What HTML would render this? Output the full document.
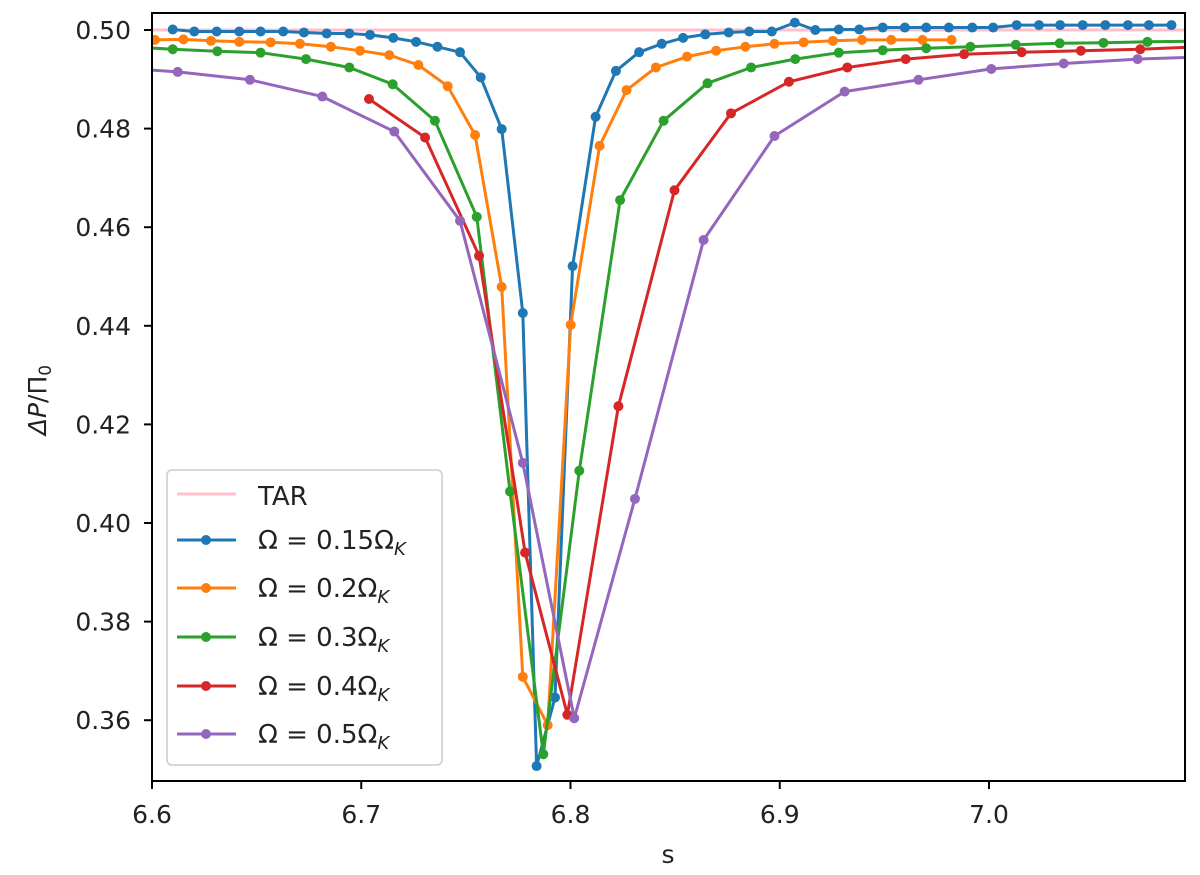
<!DOCTYPE html>
<html><head><meta charset="utf-8"><style>
body{margin:0;background:#fff;}
svg{display:block;font-family:"DejaVu Sans","Liberation Sans",sans-serif;}
</style></head><body>
<svg id="chart" width="1200" height="875" viewBox="0 0 1200 875">
<defs><clipPath id="clip"><rect x="152" y="13" width="1033" height="768"/></clipPath></defs>
<rect x="0" y="0" width="1200" height="875" fill="#fff"/>
<g id="plot" clip-path="url(#clip)"></g>
<g id="axes"></g>
</svg>
<script>
const xTicks = [6.6, 6.7, 6.8, 6.9, 7.0];
const xTickLabels = ["6.6", "6.7", "6.8", "6.9", "7.0"];
const yTicks = [0.36, 0.38, 0.40, 0.42, 0.44, 0.46, 0.48, 0.50];
const yTickLabels = ["0.36", "0.38", "0.40", "0.42", "0.44", "0.46", "0.48", "0.50"];
const tarValue = 0.50;

const s015 = [6.6099,6.6202,6.6309,6.6417,6.6519,6.6627,6.6726,6.6835,6.6943,6.7042,6.7153,6.7262,6.7364,6.7472,6.7571,6.7671,6.7772,6.7838,6.7926,6.8010,6.812,6.8217,6.8328,6.8436,6.8538,6.8644,6.8756,6.8854,6.8962,6.9072,6.9170,6.9282,6.9380,6.9492,6.9598,6.9700,6.9808,6.9920,7.0020,7.0132,7.0239,7.0340,7.0448,7.0556,7.0664,7.0764,7.0872];
const v015 = [0.5001,0.4997,0.4997,0.4997,0.4997,0.4997,0.4995,0.4993,0.4993,0.4990,0.4984,0.4976,0.4966,0.4955,0.4904,0.4799,0.4426,0.3507,0.3646,0.4521,0.4824,0.4917,0.4955,0.4972,0.4984,0.4991,0.4995,0.4997,0.4997,0.5015,0.5000,0.5001,0.5001,0.5005,0.5005,0.5005,0.5005,0.5005,0.5005,0.5010,0.5010,0.5010,0.5010,0.5010,0.5010,0.5010,0.5010];
const s02 = [6.6014,6.6150,6.6282,6.6417,6.6567,6.6707,6.6855,6.6994,6.7134,6.7273,6.7413,6.7544,6.7671,6.7772,6.7891,6.8001,6.8139,6.8268,6.8408,6.8557,6.8696,6.8836,6.8975,6.9114,6.9254,6.9393,6.9533,6.9682,6.9821];
const v02 = [0.4980,0.4981,0.4978,0.4976,0.4975,0.4972,0.4966,0.4958,0.4949,0.4929,0.4886,0.4787,0.4479,0.3688,0.3590,0.4402,0.4765,0.4878,0.4924,0.4946,0.4958,0.4966,0.4972,0.4975,0.4978,0.4980,0.4980,0.4980,0.4980];
const s03 = [6.589,6.6099,6.6312,6.6519,6.6736,6.6943,6.7150,6.7352,6.7552,6.7711,6.7870,6.8042,6.8237,6.8445,6.8655,6.8863,6.9074,6.9282,6.9492,6.9700,6.9911,7.0128,7.0338,7.0547,7.0757,7.097];
const v03 = [0.4966,0.4961,0.4957,0.4954,0.4941,0.4924,0.4890,0.4816,0.4621,0.4064,0.3531,0.4106,0.4655,0.4816,0.4892,0.4924,0.4941,0.4954,0.4959,0.4963,0.4966,0.4970,0.4973,0.4974,0.4976,0.4977];
const s04 = [6.7037,6.7305,6.7563,6.7783,6.7985,6.8229,6.8497,6.8767,6.9044,6.9323,6.9602,6.9881,7.0156,7.0439,7.0723,7.100];
const v04 = [0.4860,0.4782,0.4542,0.3940,0.3611,0.4237,0.4675,0.4831,0.4895,0.4924,0.4941,0.4951,0.4955,0.4958,0.4961,0.4966];
const s05 = [6.585,6.6123,6.6468,6.6814,6.7158,6.7472,6.7772,6.8018,6.8308,6.8636,6.8975,6.9310,6.9663,7.0011,7.0357,7.0710,7.106];
const v05 = [0.4923,0.4915,0.4899,0.4865,0.4794,0.4613,0.4122,0.3604,0.4049,0.4574,0.4785,0.4875,0.4899,0.4921,0.4932,0.4941,0.4946];

const X0 = 152, XPER = 2092.5, Y0 = 30, YPER = 4930;
function xs(s){ return X0 + (s - 6.6) * XPER; }
function ys(v){ return Y0 + (0.50 - v) * YPER; }
const NS = "http://www.w3.org/2000/svg";
const plot = document.getElementById('plot');
const axes = document.getElementById('axes');
function mk(tag, attrs, parent){ const e = document.createElementNS(NS, tag); for (const k in attrs) e.setAttribute(k, attrs[k]); parent.appendChild(e); return e; }

const tar = mk('line', {x1:152, x2:1185, y1:ys(tarValue), y2:ys(tarValue), stroke:'#ffc0cb', 'stroke-width':3}, plot);



const series = [
  {name:'omega-0.15', s:s015, v:v015, c:'#1f77b4'},
  {name:'omega-0.2', s:s02, v:v02, c:'#ff7f0e'},
  {name:'omega-0.3', s:s03, v:v03, c:'#2ca02c'},
  {name:'omega-0.4', s:s04, v:v04, c:'#d62728'},
  {name:'omega-0.5', s:s05, v:v05, c:'#9467bd'}
];
series.forEach(sr => {
  const g = mk('g', {}, plot);
  
  
  const pts = sr.s.map((s,i) => xs(s).toFixed(1) + ',' + ys(sr.v[i]).toFixed(1)).join(' ');
  const pl = mk('polyline', {points:pts, fill:'none', stroke:sr.c, 'stroke-width':3, 'stroke-linejoin':'round'}, g);
  
  
  sr.s.forEach((s,i) => {
    const c = mk('circle', {cx:xs(s), cy:ys(sr.v[i]), r:5, fill:sr.c}, g);
    
    
  });
});

const frame = mk('rect', {x:152, y:13, width:1033, height:768, fill:'none', stroke:'#000', 'stroke-width':2}, axes);



xTicks.forEach((t,i) => {
  const x = xs(t);
  const tk = mk('line', {x1:x, x2:x, y1:781, y2:789, stroke:'#000', 'stroke-width':2}, axes);
  
  
  const lb = mk('text', {x:x, y:823, 'text-anchor':'middle', 'font-size':25, fill:'#222'}, axes);
  lb.textContent = xTickLabels[i];
  
  
});
yTicks.forEach((t,i) => {
  const y = ys(t);
  const tk = mk('line', {x1:144, x2:152, y1:y, y2:y, stroke:'#000', 'stroke-width':2}, axes);
  
  
  const lb = mk('text', {x:131, y:y+9, 'text-anchor':'end', 'font-size':25, fill:'#222'}, axes);
  lb.textContent = yTickLabels[i];
  
  
});
</script>
<svg style="position:absolute;left:0;top:0" width="1200" height="875">
<text x="668" y="863" text-anchor="middle" font-size="25" fill="#222" font-family="DejaVu Sans, sans-serif">s</text>
<text transform="translate(46,400) rotate(-90)" text-anchor="middle" font-size="25" fill="#222" font-family="DejaVu Sans, sans-serif"><tspan font-style="italic">ΔP</tspan>/Π<tspan font-size="17" dy="5">0</tspan></text>
<g font-family="DejaVu Sans, sans-serif" font-size="26" fill="#222">
<rect x="167" y="470" width="275" height="295" rx="5" fill="#fff" fill-opacity="0.85" stroke="#ccc" stroke-width="1.5"/>
<g><line x1="177" x2="236" y1="494" y2="494" stroke="#ffc0cb" stroke-width="3"/><text x="258" y="505">TAR</text></g>
<g><line x1="177" x2="236" y1="540" y2="540" stroke="#1f77b4" stroke-width="3"/><circle cx="206" cy="540" r="5" fill="#1f77b4"/><text x="258" y="549">Ω = 0.15Ω<tspan font-style="italic" font-size="18" dy="6">K</tspan></text></g>
<g><line x1="177" x2="236" y1="588" y2="588" stroke="#ff7f0e" stroke-width="3"/><circle cx="206" cy="588" r="5" fill="#ff7f0e"/><text x="258" y="597">Ω = 0.2Ω<tspan font-style="italic" font-size="18" dy="6">K</tspan></text></g>
<g><line x1="177" x2="236" y1="637" y2="637" stroke="#2ca02c" stroke-width="3"/><circle cx="206" cy="637" r="5" fill="#2ca02c"/><text x="258" y="646">Ω = 0.3Ω<tspan font-style="italic" font-size="18" dy="6">K</tspan></text></g>
<g><line x1="177" x2="236" y1="686" y2="686" stroke="#d62728" stroke-width="3"/><circle cx="206" cy="686" r="5" fill="#d62728"/><text x="258" y="695">Ω = 0.4Ω<tspan font-style="italic" font-size="18" dy="6">K</tspan></text></g>
<g><line x1="177" x2="236" y1="734" y2="734" stroke="#9467bd" stroke-width="3"/><circle cx="206" cy="734" r="5" fill="#9467bd"/><text x="258" y="743">Ω = 0.5Ω<tspan font-style="italic" font-size="18" dy="6">K</tspan></text></g>
</g>
</svg>
</body></html>
